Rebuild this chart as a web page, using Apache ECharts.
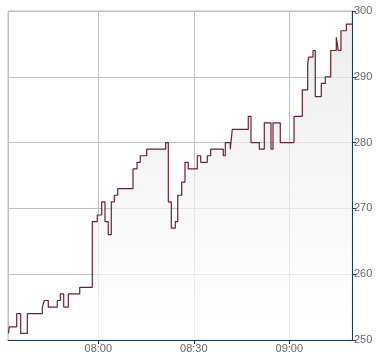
<!DOCTYPE html>
<html>
<head>
<meta charset="utf-8">
<script src="https://cdn.jsdelivr.net/npm/echarts@6/dist/echarts.min.js"></script>
<style>html,body{margin:0;padding:0;background:#fff}#c{width:390px;height:364px}</style>
</head>
<body>
<div id="c"></div>
<script>
var day = '2024-01-02 ';
var times = ['07:31:47','07:32:02','07:34:22','07:35:37','07:37:42','07:42:25','07:43:02','07:44:17','07:47:07','07:48:04',
'07:49:08','07:50:35','07:54:10','07:58:07','07:59:41','08:01:04','08:02:06','08:03:08','08:04:05','08:05:02',
'08:06:06','08:10:54','08:12:10','08:13:12','08:15:12','08:21:10','08:22:00','08:22:56','08:24:11','08:24:57',
'08:26:12','08:27:14','08:28:16','08:31:06','08:32:10','08:34:14','08:35:18','08:39:16','08:39:54','08:41:28',
'08:42:05','08:47:07','08:47:58','08:50:35','08:52:09','08:54:15','08:54:53','08:57:10','09:01:29','09:04:05',
'09:05:47','09:06:06','09:07:27','09:08:10','09:10:03','09:11:19','09:13:01','09:14:46','09:15:23','09:16:14',
'09:17:55','09:19:42'];
var prices = [251,252,254,251,254,255,256,255,256,257,
255,257,258,268,269,271,268,266,271,272,
273,276,277,278,279,280,271,267,268,272,
274,277,276,278,277,278,279,278,280,279,
282,284,280,279,283,279,283,280,284,288,
292,293,294,287,289,290,294,296,294,297,
298,298];
var yTicks = [250, 260, 270, 280, 290, 300];
var xStart = '07:31:38', xEnd = '09:19:42';

var data = times.map(function (t, i) { return [day + t, prices[i]]; });
var navy = '#1f3564';
var chart = echarts.init(document.getElementById('c'), null, {renderer: 'canvas'});
chart.setOption({
  animation: false,
  grid: {left: 8, right: 38, top: 11, bottom: 24, show: true, borderColor: '#c0c0c0', borderWidth: 1, backgroundColor: 'transparent'},
  xAxis: {
    type: 'time',
    min: day + xStart,
    max: day + xEnd,
    splitNumber: 3,
    axisLine: {show: true, lineStyle: {color: navy, width: 1}},
    axisTick: {show: true, length: 4, lineStyle: {color: navy}},
    axisLabel: {formatter: '{HH}:{mm}', color: '#666', fontFamily: 'Liberation Sans', fontSize: 11, margin: 3, showMinLabel: false, showMaxLabel: false},
    splitLine: {show: true, lineStyle: {color: '#c0c0c0', width: 1}}
  },
  yAxis: {
    type: 'value',
    position: 'right',
    min: yTicks[0],
    max: yTicks[yTicks.length - 1],
    interval: yTicks[1] - yTicks[0],
    axisLine: {show: true, lineStyle: {color: navy, width: 1}},
    axisTick: {show: true, length: 4, lineStyle: {color: navy}},
    axisLabel: {color: '#666', fontFamily: 'Liberation Sans', fontSize: 11, margin: 2},
    splitLine: {show: true, lineStyle: {color: '#c0c0c0', width: 1}}
  },
  series: [{
    type: 'line',
    step: 'end',
    data: data,
    symbol: 'none',
    lineStyle: {color: '#6b2228', width: 1.2},
    areaStyle: {
      origin: 'start',
      color: new echarts.graphic.LinearGradient(0, 0, 0, 1, [
        {offset: 0, color: '#e6e6e6'},
        {offset: 1, color: '#ffffff'}
      ])
    }
  }]
});
</script>
</body>
</html>
